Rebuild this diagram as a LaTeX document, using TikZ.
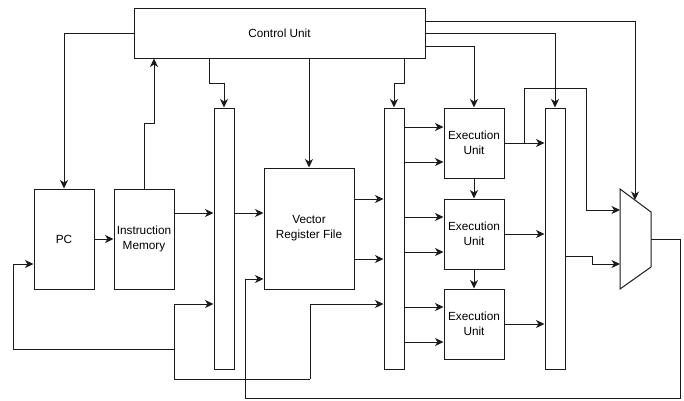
\documentclass[tikz,border=0pt]{standalone}
\usepackage{fontspec}
\setmainfont{Liberation Sans}
\usepackage{tikz}
\usetikzlibrary{arrows.meta}
\definecolor{ink}{HTML}{1A1A1A}
\tikzset{
  block/.style={rectangle, draw=ink, fill=white, line width=1pt, inner sep=1pt,
                align=center, font=\fontsize{11.8}{15}\selectfont},
  latch/.style={rectangle, draw=ink, fill=white, line width=1pt, inner sep=0pt,
                minimum width=20pt, minimum height=261pt},
  wire/.style={line width=1pt, draw=ink},
  arr/.style={-{Stealth[length=8.5pt,width=8pt,inset=2.5pt]}, line width=1pt, draw=ink},
}

\begin{document}
\begin{tikzpicture}[x=1pt,y=-1pt]
  \useasboundingbox (0,0) rectangle (684,400);
  % blocks
  \node[block, minimum width=291pt, minimum height=50pt] (cu) at (279.5,33) {Control Unit};
  \node[block, minimum width=60pt, minimum height=100pt] (pc) at (64,239) {PC};
  \node[block, minimum width=60pt, minimum height=100pt] (im) at (144,239) {Instruction\\Memory};
  \node[latch] (regA) at (224,238.5) {};
  \node[block, minimum width=90pt, minimum height=121pt] (vrf) at (309,228.5) {Vector\\Register File};
  \node[latch] (regB) at (394,238.5) {};
  \node[block, minimum width=60pt, minimum height=70pt] (eu1) at (474,143) {Execution\\Unit};
  \node[block, minimum width=60pt, minimum height=70pt] (eu2) at (474,234) {Execution\\Unit};
  \node[block, minimum width=60pt, minimum height=70pt] (eu3) at (474,324) {Execution\\Unit};
  \node[latch] (regC) at (555,238.5) {};
  % mux
  \draw[wire, fill=white] (620,189) -- (651,212) -- (651,267) -- (620,289) -- cycle;
  \coordinate (muxsel) at (635,200);
  \coordinate (muxinA) at (620,210);
  \coordinate (muxinB) at (620,264);
  \coordinate (muxout) at (651,239.5);

  % control lines
  \draw[arr] (cu.west) -| (pc.north);
  \draw[arr] (im.north) -- (144,123) -| (154,0 |- cu.south);
  \draw[arr] (209,0 |- cu.south) -- (209,83) -| (regA.north);
  \draw[arr] (vrf.north |- cu.south) -- (vrf.north);
  \draw[arr] (404,0 |- cu.south) -- (404,83) -| (regB.north);
  \draw[arr] (cu.east |- 0,46) -| (eu1.north);
  \draw[arr] (cu.east) -| (regC.north);
  \draw[arr] (cu.east |- 0,21) -| (muxsel);

  % datapath
  \draw[arr] (pc.east) -- (im.west);
  \draw[arr] (im.east |- 0,213) -- (regA.west |- 0,213);
  \draw[arr] (regA.east |- 0,213) -- (vrf.west |- 0,213);
  \draw[arr] (vrf.east |- 0,199) -- (regB.west |- 0,199);
  \draw[arr] (vrf.east |- 0,259) -- (regB.west |- 0,259);
  \foreach \y in {127,162}
    \draw[arr] (regB.east |- 0,\y) -- (eu1.west |- 0,\y);
  \foreach \y in {217,252}
    \draw[arr] (regB.east |- 0,\y) -- (eu2.west |- 0,\y);
  \foreach \y in {307,342}
    \draw[arr] (regB.east |- 0,\y) -- (eu3.west |- 0,\y);
  \draw[arr] (eu1.south) -- (eu2.north);
  \draw[arr] (eu2.south) -- (eu3.north);
  \draw[arr] (eu1.east) -- (regC.west |- eu1.east);
  \draw[arr] (eu2.east) -- (regC.west |- eu2.east);
  \draw[arr] (eu3.east) -- (regC.west |- eu3.east);
  \draw[arr] (524,0 |- eu1.east) -- (524,88) -| (586,210) -- (muxinA);
  \draw[arr] (regC.east |- 0,256) -- (592,256) |- (muxinB);

  % feedback
  \coordinate (fbsplit) at (174,349);
  \draw[wire] (310,379) -- (174,379) -- (174,304);
  \draw[arr] (310,379) -- (310,304) -- (regB.west |- 0,304);
  \draw[arr] (174,304) -- (regA.west |- 0,304);
  \draw[arr] (fbsplit) -- (13,349) |- (pc.west |- 0,264);
  \draw[arr] (muxout) -- (680,239.5) -- (680,398.5) -| (245,279) -- (vrf.west |- 0,279);
\end{tikzpicture}
\end{document}
